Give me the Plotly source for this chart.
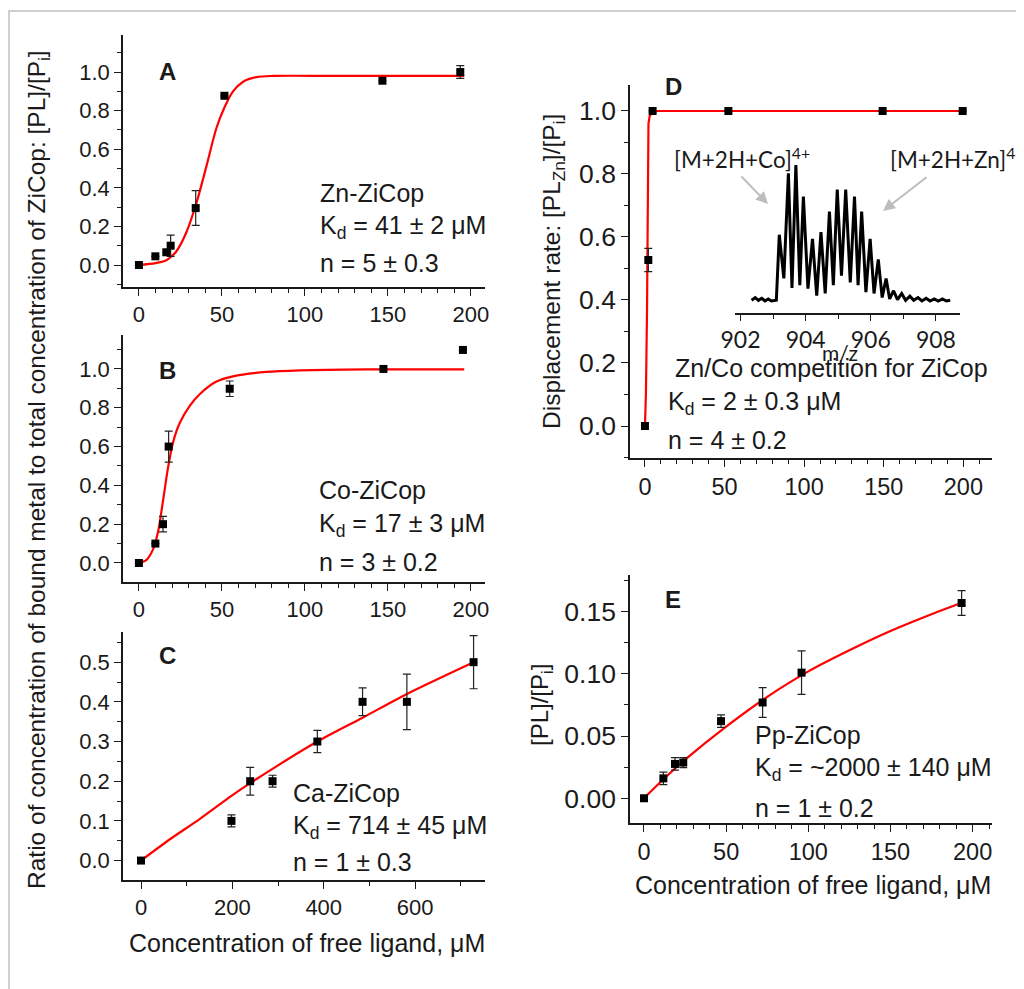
import plotly.graph_objects as go

W, H = 1024, 989
OFF = 8  # the page body margin that shifts the figure in the browser

# ---------------- data ----------------
# Panel A: Zn-ZiCop
A_x = [0, 9.9, 16.5, 19.1, 34.2, 51.5, 146.7, 193.6]
A_y = [0, 0.045, 0.066, 0.10, 0.295, 0.877, 0.955, 1.0]
A_err = [0, 0, 0, 0.055, 0.09, 0, 0, 0.033]
A_fit_x = [0, 10, 16.5, 19, 22.5, 28.6, 34.6, 40.6, 46.7, 51.7, 56.7, 62.8, 70.8, 80.9, 120, 196]
A_fit_y = [0, 0.01, 0.025, 0.04, 0.07, 0.17, 0.32, 0.51, 0.71, 0.82, 0.90, 0.95, 0.974, 0.98, 0.98, 0.98]

# Panel B: Co-ZiCop
B_x = [0, 9.9, 14.5, 17.9, 54.7, 147.3, 195.2]
B_y = [0, 0.10, 0.20, 0.60, 0.898, 1.0, 1.098]
B_err = [0, 0, 0.04, 0.08, 0.04, 0, 0]
B_fit_x = [0, 4.4, 8.5, 11.5, 14.5, 17.5, 20.5, 24.5, 30.6, 36.6, 46.7, 56.7, 76.9, 97, 137, 196]
B_fit_y = [0, 0.015, 0.07, 0.16, 0.32, 0.49, 0.62, 0.72, 0.81, 0.87, 0.935, 0.962, 0.985, 0.993, 0.998, 0.998]

# Panel C: Ca-ZiCop
C_x = [0, 198, 239, 288, 386, 485, 582, 728]
C_y = [0, 0.10, 0.20, 0.20, 0.30, 0.40, 0.40, 0.50]
C_err = [0, 0.015, 0.035, 0.015, 0.028, 0.035, 0.07, 0.067]
C_fit_x = [0, 65, 129, 198, 239, 300, 386, 485, 582, 728]
C_fit_y = [0, 0.055, 0.105, 0.163, 0.195, 0.24, 0.30, 0.36, 0.42, 0.50]

# Panel D: Zn/Co competition
D_x = [0, 2.1, 4.8, 52.4, 149.3, 199.6]
D_y = [0, 0.527, 1.0, 1.0, 1.0, 1.0]
D_err = [0, 0.037, 0, 0, 0, 0]
D_fit_x = [0, 0.6, 1.3, 1.7, 2.2, 3, 5, 8, 200]
D_fit_y = [0, 0.1, 0.37, 0.81, 0.96, 0.985, 0.997, 1.0, 1.0]

# Panel E: Pp-ZiCop
E_x = [0, 11.8, 18.9, 23.9, 46.9, 72.2, 95.9, 193.3]
E_y = [0, 0.016, 0.0276, 0.0287, 0.062, 0.077, 0.101, 0.157]
E_err = [0, 0.005, 0.005, 0.004, 0.005, 0.012, 0.0175, 0.01]
E_fit_x = [0, 12, 25, 50, 75, 100, 125, 150, 175, 193]
E_fit_y = [0, 0.0155, 0.031, 0.0576, 0.0815, 0.102, 0.119, 0.1345, 0.148, 0.157]

# Inset mass spectrum (relative intensity)
spec_mz = [902.34, 902.45, 902.55, 902.65, 902.75, 902.85, 902.95, 903.05, 903.10,
           903.19, 903.33, 903.47, 903.58, 903.70, 903.82, 903.93, 904.07, 904.21,
           904.34, 904.47, 904.60, 904.73, 904.85, 904.97, 905.10, 905.23, 905.37,
           905.50, 905.61, 905.72, 905.85, 905.98, 906.10, 906.23, 906.35, 906.47,
           906.58, 906.70, 906.82, 906.95, 907.07, 907.20, 907.32, 907.45, 907.57,
           907.70, 907.82, 907.95, 908.07, 908.20, 908.32, 908.44]
spec_int = [1, 3, 1, 2.5, 0.5, 2, 0.5, 1, 1,
            49, 17, 94, 10, 100, 12, 77, 9.5, 46,
            4.4, 51, 6, 66, 12, 82, 19, 82, 14,
            77, 12, 66, 7, 46, 6, 31, 3, 17,
            2, 8, 1.5, 6, 1, 4, 1, 3, 0.5,
            2.5, 0.5, 2, 0.5, 2, 0.5, 1]

# ---------------- layout geometry (page pixels) ----------------
def px2x(p):
    return (p - OFF) / W

def py2y(p):
    return 1 - (p - OFF) / H

panels = {
    "A": ("x", "y", 123, 485, 35, 287, [-9.6, 208.5], [-0.114, 1.192]),
    "B": ("x2", "y2", 123, 485, 335, 582, [-9.6, 208.5], [-0.098, 1.175]),
    "C": ("x3", "y3", 123, 485, 632, 880, [-39.4, 753], [-0.049, 0.576]),
    "D": ("x4", "y4", 630, 992, 85, 458, [-9.4, 218], [-0.1016, 1.0825]),
    "E": ("x5", "y5", 630, 992, 575, 823, [-8.5, 211.8], [-0.0199, 0.1795]),
}

FAM = "Liberation Sans, Arial, sans-serif"
INK = "#1a1a1a"
TXTFONT = dict(family=FAM, size=25, color=INK)

fig = go.Figure()

series = {
    "A": (A_x, A_y, A_err, A_fit_x, A_fit_y, "spline"),
    "B": (B_x, B_y, B_err, B_fit_x, B_fit_y, "spline"),
    "C": (C_x, C_y, C_err, C_fit_x, C_fit_y, "spline"),
    "D": (D_x, D_y, D_err, D_fit_x, D_fit_y, "linear"),
    "E": (E_x, E_y, E_err, E_fit_x, E_fit_y, "spline"),
}

for name, (xs, ys, es, fx, fy, shape) in series.items():
    xa, ya = panels[name][0], panels[name][1]
    line = dict(color="#ff0000", width=2.2, shape=shape)
    if shape == "spline":
        line["smoothing"] = 0.8
    fig.add_trace(go.Scatter(x=fx, y=fy, mode="lines", line=line,
                             xaxis=xa, yaxis=ya, showlegend=False, hoverinfo="skip"))
    fig.add_trace(go.Scatter(x=xs, y=ys, mode="markers",
                             marker=dict(symbol="square", size=8, color="black"),
                             error_y=dict(type="data", array=es, color="#222", thickness=1.2, width=4),
                             xaxis=xa, yaxis=ya, showlegend=False))

# inset spectrum
fig.add_trace(go.Scatter(x=spec_mz, y=spec_int, mode="lines",
                         line=dict(color="black", width=3.0),
                         xaxis="x6", yaxis="y6", showlegend=False, hoverinfo="skip"))

def axis_common(tsize):
    return dict(showline=True, linecolor=INK, linewidth=1.5, mirror=False, automargin=False,
                showgrid=False, zeroline=False, ticks="outside", ticklen=7, tickwidth=1.3,
                tickcolor=INK, tickfont=dict(family=FAM, size=tsize, color=INK))

xdt = {"A": 50, "B": 50, "C": 200, "D": 50, "E": 50}
xminor = {"A": 10, "B": 10, "C": 100, "D": 10, "E": 10}
ydt = {"A": 0.2, "B": 0.2, "C": 0.1, "D": 0.2, "E": 0.05}
yminor = {"A": 0.1, "B": 0.1, "C": 0.05, "D": 0.1, "E": 0.025}
yfmt = {"A": ".1f", "B": ".1f", "C": ".1f", "D": ".1f", "E": ".2f"}
xts = {"A": 22, "B": 22, "C": 22, "D": 23.5, "E": 23.5}
yts = {"A": 22, "B": 22, "C": 22, "D": 26.5, "E": 26.5}

layout_axes = {}
for name, (xa, ya, l, r, t, b, xr, yr) in panels.items():
    xk = "xaxis" + xa[1:]
    yk = "yaxis" + ya[1:]
    layout_axes[xk] = dict(axis_common(xts[name]), domain=[px2x(l), px2x(r)], range=xr,
                           anchor=ya, tick0=0, dtick=xdt[name],
                           minor=dict(dtick=xminor[name], tick0=0, ticks="outside", ticklen=4,
                                      tickwidth=1.1, tickcolor=INK))
    layout_axes[yk] = dict(axis_common(yts[name]), domain=[py2y(b), py2y(t)], range=yr,
                           anchor=xa, tick0=0, dtick=ydt[name], tickformat=yfmt[name],
                           minor=dict(dtick=yminor[name], tick0=0, ticks="outside", ticklen=4,
                                      tickwidth=1.1, tickcolor=INK))

INSFAM = "Lato, Open Sans, sans-serif"
INSFONT = dict(family=INSFAM, size=22.5, color=INK)
ins_x = axis_common(23)
ins_x["tickfont"] = dict(family=INSFAM, size=23, color=INK)
layout_axes["xaxis6"] = dict(ins_x, domain=[px2x(735), px2x(960)], range=[901.83, 908.74],
                             anchor="y6", tick0=902, dtick=2, ticklen=6,
                             minor=dict(dtick=1, tick0=902, ticks="outside", ticklen=4,
                                        tickwidth=1.1, tickcolor=INK))
layout_axes["yaxis6"] = dict(domain=[py2y(313), py2y(160)], range=[-8.3, 103.7], anchor="x6",
                             visible=False, showgrid=False, zeroline=False, automargin=False)

annotations = []

def txt(x, y, text, size=25, anchor="left", font=None, bold=False, angle=0, yanchor="middle"):
    f = dict(font or TXTFONT)
    f["size"] = size
    if bold:
        text = "<b>" + text + "</b>"
    annotations.append(dict(x=px2x(x), y=py2y(y), xref="paper", yref="paper", text=text,
                            showarrow=False, xanchor=anchor, yanchor=yanchor, font=f,
                            textangle=angle))

# panel letters
txt(167, 72, "A", size=24, anchor="center", bold=True)
txt(167, 370, "B", size=24, anchor="center", bold=True)
txt(167, 655, "C", size=24, anchor="center", bold=True)
txt(673, 87, "D", size=24, anchor="center", bold=True)
txt(673, 599, "E", size=24, anchor="center", bold=True)

# panel texts
txt(318, 193, "Zn-ZiCop")
txt(318, 227, "K<sub>d</sub> = 41 ± 2 μM")
txt(318, 263, "n = 5 ± 0.3")

txt(317, 490, "Co-ZiCop")
txt(317, 525, "K<sub>d</sub> = 17 ± 3 μM")
txt(317, 562, "n = 3 ± 0.2")

txt(291, 793, "Ca-ZiCop")
txt(291, 827, "K<sub>d</sub> = 714 ± 45 μM")
txt(291, 862, "n = 1 ± 0.3")

txt(673, 368, "Zn/Co competition for ZiCop")
txt(666, 403, "K<sub>d</sub> = 2 ± 0.3 μM")
txt(666, 440, "n = 4 ± 0.2")

txt(753, 735, "Pp-ZiCop")
txt(753, 769, "K<sub>d</sub> = ~2000 ± 140 μM")
txt(753, 808, "n = 1 ± 0.2")

# axis titles
txt(307, 943, "Concentration of free ligand, μM", anchor="center")
txt(813, 885, "Concentration of free ligand, μM", anchor="center")
txt(553, 272, "Displacement rate: [PL<sub>Zn</sub>]/[P<sub>i</sub>]", anchor="center", angle=-90, size=24.5)
txt(541, 705, "[PL]/[P<sub>i</sub>]", anchor="center", angle=-90, size=24)
txt(38, 470, "Ratio of concentration of bound metal to total concentration of ZiCop: [PL]/[P<sub>i</sub>]",
    anchor="center", angle=-90, size=24.5)

# inset texts
txt(672, 158, "[M+2H+Co]<sup>4+</sup>", size=22.5, font=INSFONT)
txt(888, 158, "[M+2H+Zn]<sup>4+</sup>", size=22.5, font=INSFONT)
txt(840, 352, "m/z", size=21, anchor="center", font=INSFONT)

# gray arrows (tail -> head, in pixels)
for (x0, y0, x1, y1) in [(740, 175, 768, 204), (928, 176, 883, 211)]:
    annotations.append(dict(x=px2x(x1), y=py2y(y1), ax=x0 - x1, ay=y0 - y1,
                            xref="paper", yref="paper", axref="pixel", ayref="pixel",
                            text="", showarrow=True, arrowhead=2, arrowsize=1.2,
                            arrowwidth=2, arrowcolor="#bdbdbd"))

shapes = [
    dict(type="line", xref="paper", yref="paper", x0=0, x1=1, y0=py2y(11), y1=py2y(11),
         line=dict(color="#cfcfcf", width=2)),
    dict(type="line", xref="paper", yref="paper", x0=0.001, x1=0.001, y0=0, y1=py2y(11),
         line=dict(color="#cfcfcf", width=2)),
]

fig.update_layout(width=W, height=H, margin=dict(l=0, r=0, t=0, b=0, autoexpand=False),
                  paper_bgcolor="white", plot_bgcolor="rgba(0,0,0,0)",
                  annotations=annotations, shapes=shapes, showlegend=False,
                  **layout_axes)

fig.write_html("out.html")
